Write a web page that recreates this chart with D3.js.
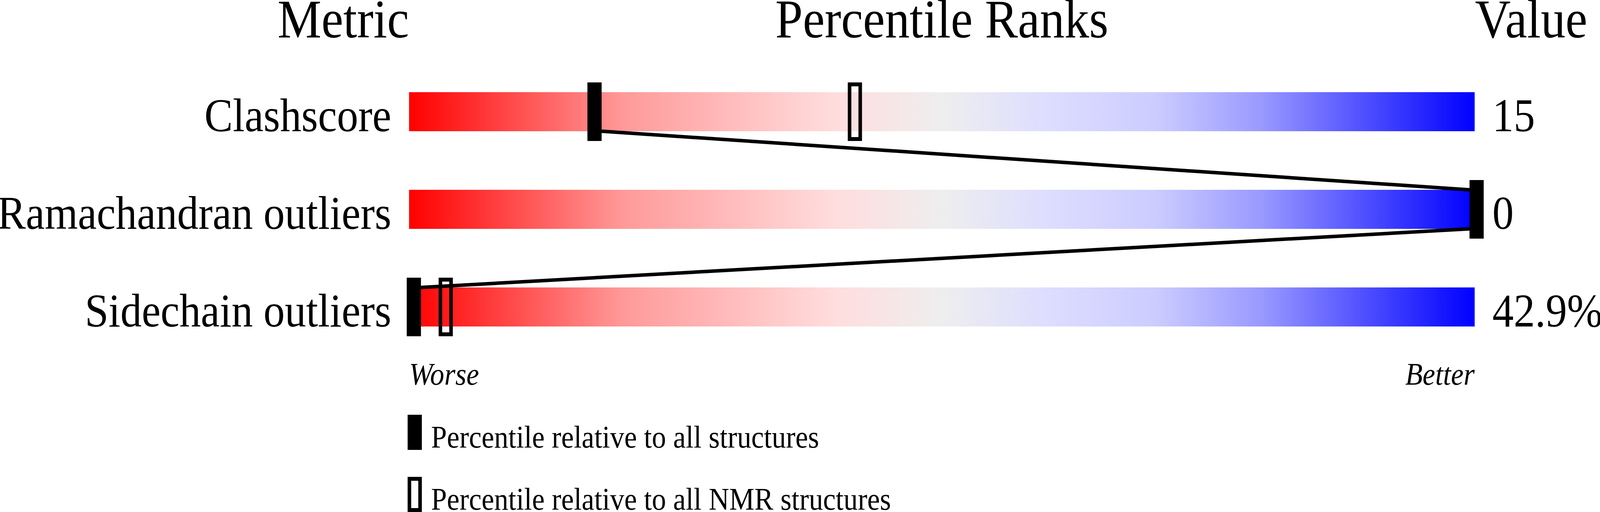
<!DOCTYPE html>
<html>
<head>
<meta charset="utf-8">
<script src="https://cdn.jsdelivr.net/npm/d3@7"></script>
<style>
  html, body { margin: 0; padding: 0; background: #ffffff; overflow: hidden; width: 100%; height: 100%; }
  svg { display: block; }
  text { font-family: "Liberation Serif", "Times New Roman", "DejaVu Serif", serif; fill: #000; }
</style>
</head>
<body>
<script>
// ---- data ----
const headers = ["Metric", "Percentile Ranks", "Value"];
const metrics = ["Clashscore", "Ramachandran outliers", "Sidechain outliers"];
const valueLabels = ["15", "0", "42.9%"];
const pctAll = [17, 100, 0];          // percentile relative to all structures
const pctNMR = [41.5, null, 3];       // percentile relative to all NMR structures
const endLabels = ["Worse", "Better"];
const legendLabels = ["Percentile relative to all structures", "Percentile relative to all NMR structures"];
const gradientStops = [
  [0.0, "#ff0000"], [0.2, "#ff9999"], [0.4, "#ffdddd"], [0.5, "#eeeeee"],
  [0.6, "#ddddff"], [0.7, "#ccccff"], [0.8, "#9999ff"], [1.0, "#0000ff"]
];

// ---- layout (design units; the svg is scaled to the window) ----
const W = 4506, H = 1311;
const barX0 = 1152, barX1 = 4153;
const barH = 100, markW = 40, markH = 150, lineW = 9;

const svg = d3.select("body").append("svg")
  .attr("width", window.innerWidth || W).attr("height", window.innerHeight || H)
  .attr("viewBox", `0 0 ${W} ${H}`).attr("preserveAspectRatio", "none");

const barScale = d3.scaleLinear().domain([0, 100]).range([barX0, barX1]);
const markScale = d3.scaleLinear().domain([0, 100]).range([1165.5, 4158.5]);
const yScale = d3.scalePoint().domain(metrics).range([286, 786]);

const defs = svg.append("defs");
const grad = defs.append("linearGradient").attr("id", "slider")
  .attr("x1", "0%").attr("x2", "100%").attr("y1", "0%").attr("y2", "0%");
grad.selectAll("stop").data(gradientStops).join("stop")
  .attr("offset", d => d[0]).attr("stop-color", d => d[1]);

// headers
svg.append("text").attr("x", barScale(0)).attr("y", 96).attr("text-anchor", "end")
  .attr("font-size", 139).text(headers[0]);
svg.append("text").attr("x", barScale(50)).attr("y", 96).attr("text-anchor", "middle")
  .attr("font-size", 139).text(headers[1]);
svg.append("text").attr("x", barScale(100) + 1).attr("y", 96).attr("text-anchor", "start")
  .attr("font-size", 139).text(headers[2]);

// bars
svg.selectAll("rect.bar").data(metrics).join("rect").attr("class", "bar")
  .attr("x", barScale(0)).attr("width", barScale(100) - barScale(0))
  .attr("y", d => yScale(d) - barH / 2).attr("height", barH)
  .attr("fill", "url(#slider)");

// row labels
svg.selectAll("text.metric").data(metrics).join("text").attr("class", "metric")
  .attr("x", barScale(0) - 50).attr("y", d => yScale(d) + barH / 2)
  .attr("text-anchor", "end").attr("font-size", 120).text(d => d);

// values
svg.selectAll("text.val").data(valueLabels).join("text").attr("class", "val")
  .attr("x", barScale(100) + 50).attr("y", (d, i) => yScale(metrics[i]) + barH / 2)
  .attr("text-anchor", "start").attr("font-size", 120).text(d => d);

// connecting lines between consecutive "all structures" markers
const pts = pctAll.map((p, i) => ({ x: markScale(p), y: yScale(metrics[i]) }));
const segs = d3.pairs(pts).map(([a, b]) => {
  const ax = a.x + (b.x > a.x ? markW / 2 : -markW / 2);
  const bx = b.x + (b.x > a.x ? -markW / 2 : markW / 2);
  return { x1: ax, y1: a.y + barH / 2, x2: bx, y2: b.y - barH / 2 };
});
svg.selectAll("line.link").data(segs).join("line").attr("class", "link")
  .attr("x1", d => d.x1).attr("y1", d => d.y1).attr("x2", d => d.x2).attr("y2", d => d.y2)
  .attr("stroke", "#000").attr("stroke-width", lineW);

// NMR markers (open)
const nmr = pctNMR.map((p, i) => ({ p, m: metrics[i] })).filter(d => d.p !== null);
svg.selectAll("rect.nmr").data(nmr).join("rect").attr("class", "nmr")
  .attr("x", d => markScale(d.p) - markW / 2 + 5).attr("width", markW - 10)
  .attr("y", d => yScale(d.m) - markH / 2 + 5).attr("height", markH - 10)
  .attr("fill", "none").attr("stroke", "#000").attr("stroke-width", 10);

// all-structure markers (filled)
svg.selectAll("rect.all").data(pctAll).join("rect").attr("class", "all")
  .attr("x", d => markScale(d) - markW / 2).attr("width", markW)
  .attr("y", (d, i) => yScale(metrics[i]) - markH / 2).attr("height", markH)
  .attr("fill", "#000");

// worse / better
svg.append("text").attr("x", barScale(0)).attr("y", 985).attr("text-anchor", "start")
  .attr("font-size", 80).attr("font-style", "italic").text(endLabels[0]);
svg.append("text").attr("x", barScale(100)).attr("y", 985).attr("text-anchor", "end")
  .attr("font-size", 80).attr("font-style", "italic").text(endLabels[1]);

// legend
const legY = d3.scalePoint().domain(legendLabels).range([1062, 1221]);
const leg = svg.selectAll("g.leg").data(legendLabels).join("g").attr("class", "leg")
  .attr("transform", d => `translate(1148,${legY(d)})`);
leg.append("rect")
  .attr("x", (d, i) => i === 0 ? 0 : 5).attr("y", (d, i) => i === 0 ? 0 : 5)
  .attr("width", (d, i) => i === 0 ? markW : markW - 10)
  .attr("height", (d, i) => i === 0 ? 90 : 80)
  .attr("fill", (d, i) => i === 0 ? "#000" : "none")
  .attr("stroke", (d, i) => i === 0 ? "none" : "#000")
  .attr("stroke-width", 10);
leg.append("text").attr("x", 66).attr("y", 84).attr("font-size", 80).text(d => d);
</script>
</body>
</html>
